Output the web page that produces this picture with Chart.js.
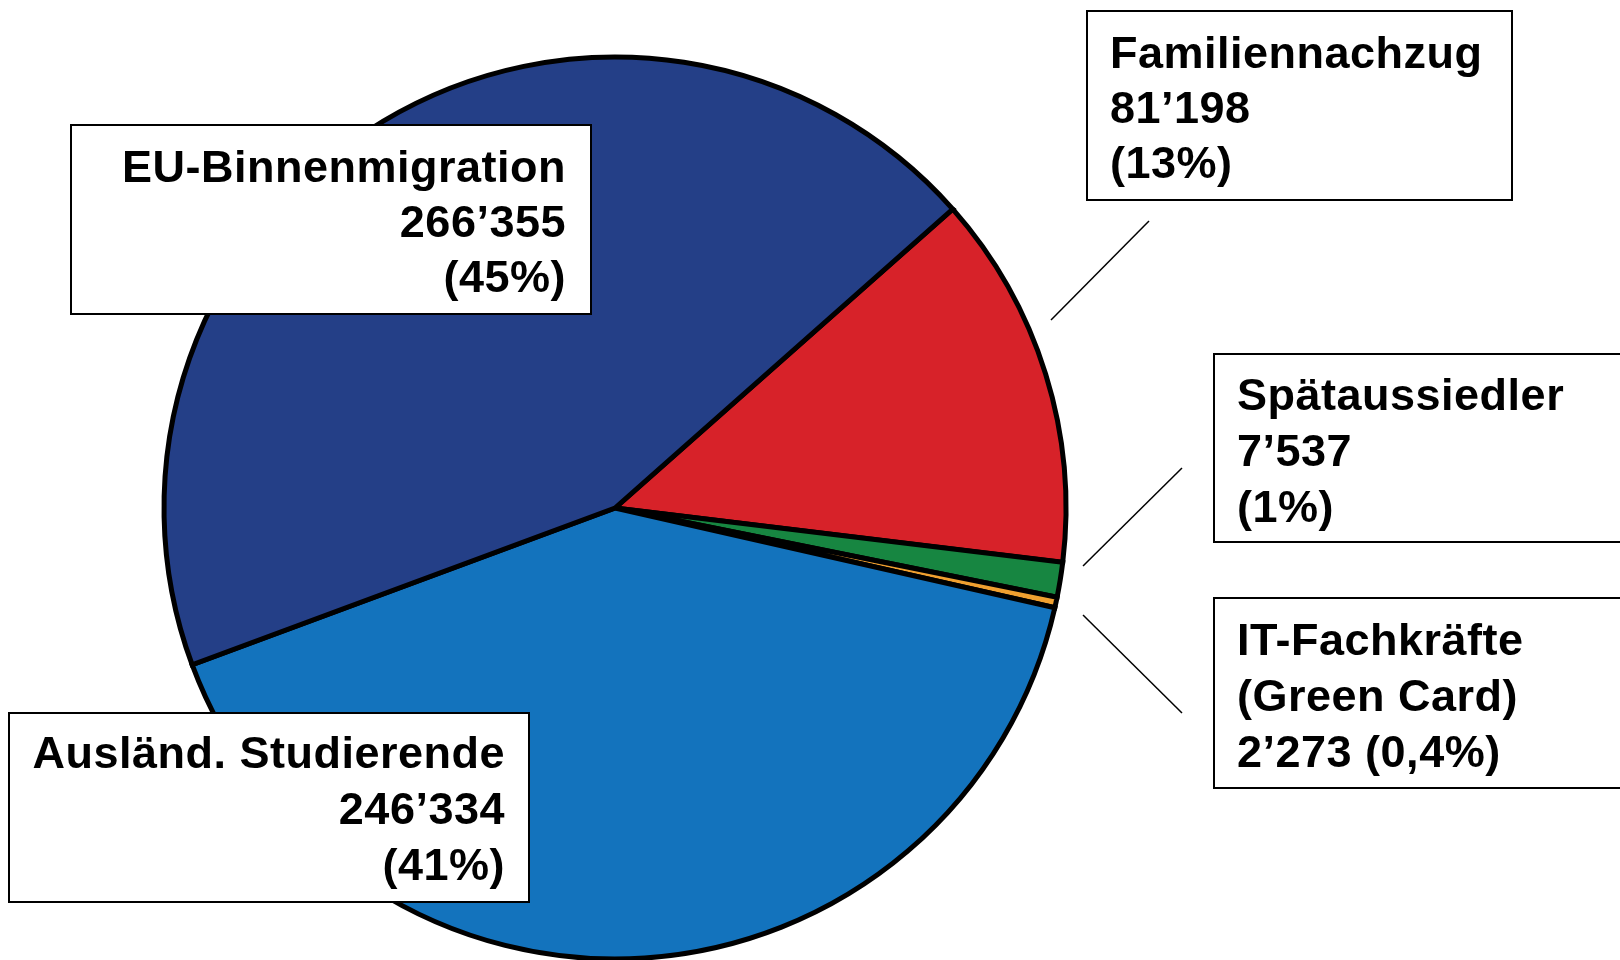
<!DOCTYPE html>
<html>
<head>
<meta charset="utf-8">
<script src="https://cdn.jsdelivr.net/npm/chart.js@4/dist/chart.umd.min.js"></script>
<style>
  html,body{margin:0;padding:0;background:#fff;}
  .wrap{width:1620px;height:960px;position:relative;}
</style>
</head>
<body>
<div class="wrap"><canvas id="pie"></canvas></div>
<script>
// data
const categories = ['Familiennachzug', 'Spätaussiedler', 'IT-Fachkräfte (Green Card)', 'Ausländ. Studierende', 'EU-Binnenmigration'];
const counts = [81198, 7537, 2273, 246334, 266355];
const shareText = ['(13%)', '(1%)', '(0,4%)', '(41%)', '(45%)'];
const sliceColors = ['#D72229', '#178641', '#F0A030', '#1373BD', '#243F87'];

function fmt(n){ return String(n).replace(/\B(?=(\d{3})+(?!\d))/g, '\u2019'); }

// label boxes (box rect, text anchor, alignment, lines)
const boxes = [
  {x:1087, y:11, w:425, h:189, tx:1110, ty:[68,123,178], align:'left',
   lines:[categories[0], fmt(counts[0]), shareText[0]]},
  {x:1214, y:354, w:440, h:188, tx:1237, ty:[410,466,522], align:'left',
   lines:[categories[1], fmt(counts[1]), shareText[1]]},
  {x:1214, y:598, w:440, h:190, tx:1237, ty:[655,711,767], align:'left',
   lines:['IT-Fachkräfte', '(Green Card)', fmt(counts[2]) + ' ' + shareText[2]]},
  {x:9, y:713, w:520, h:189, tx:505, ty:[768,824,880], align:'right',
   lines:[categories[3], fmt(counts[3]), shareText[3]]},
  {x:71, y:125, w:520, h:189, tx:566, ty:[182,237,292], align:'right',
   lines:[categories[4], fmt(counts[4]), shareText[4]]}
];
const leaders = [[1051,320,1149,221],[1083,566,1182,468],[1083,615,1182,713]];

const labelPlugin = {
  id:'boxLabels',
  afterDraw(chart){
    const ctx = chart.ctx;
    ctx.save();
    ctx.strokeStyle = '#000'; ctx.lineWidth = 1.5;
    leaders.forEach(l=>{ ctx.beginPath(); ctx.moveTo(l[0],l[1]); ctx.lineTo(l[2],l[3]); ctx.stroke(); });
    ctx.font = 'bold 45px "Liberation Sans", Arial, sans-serif';
    if('letterSpacing' in ctx) ctx.letterSpacing = '0.5px';
    ctx.textBaseline = 'alphabetic';
    boxes.forEach(b=>{
      ctx.fillStyle = '#fff'; ctx.fillRect(b.x, b.y, b.w, b.h);
      ctx.lineWidth = 2; ctx.strokeStyle = '#000'; ctx.strokeRect(b.x, b.y, b.w, b.h);
      ctx.fillStyle = '#000'; ctx.textAlign = b.align;
      b.lines.forEach((t,i)=>ctx.fillText(t, b.tx, b.ty[i]));
    });
    ctx.restore();
  }
};

new Chart(document.getElementById('pie'), {
  type:'pie',
  data:{ labels:categories, datasets:[{ data:counts, backgroundColor:sliceColors, borderColor:'#000', borderWidth:5, borderJoinStyle:'miter' }] },
  options:{
    responsive:true, maintainAspectRatio:false, animation:false,
    rotation:48.5, radius:451,
    layout:{ padding:{ left:0, right:390, top:56, bottom:0 } },
    plugins:{ legend:{display:false}, tooltip:{enabled:false} }
  },
  plugins:[labelPlugin]
});
</script>
</body>
</html>
